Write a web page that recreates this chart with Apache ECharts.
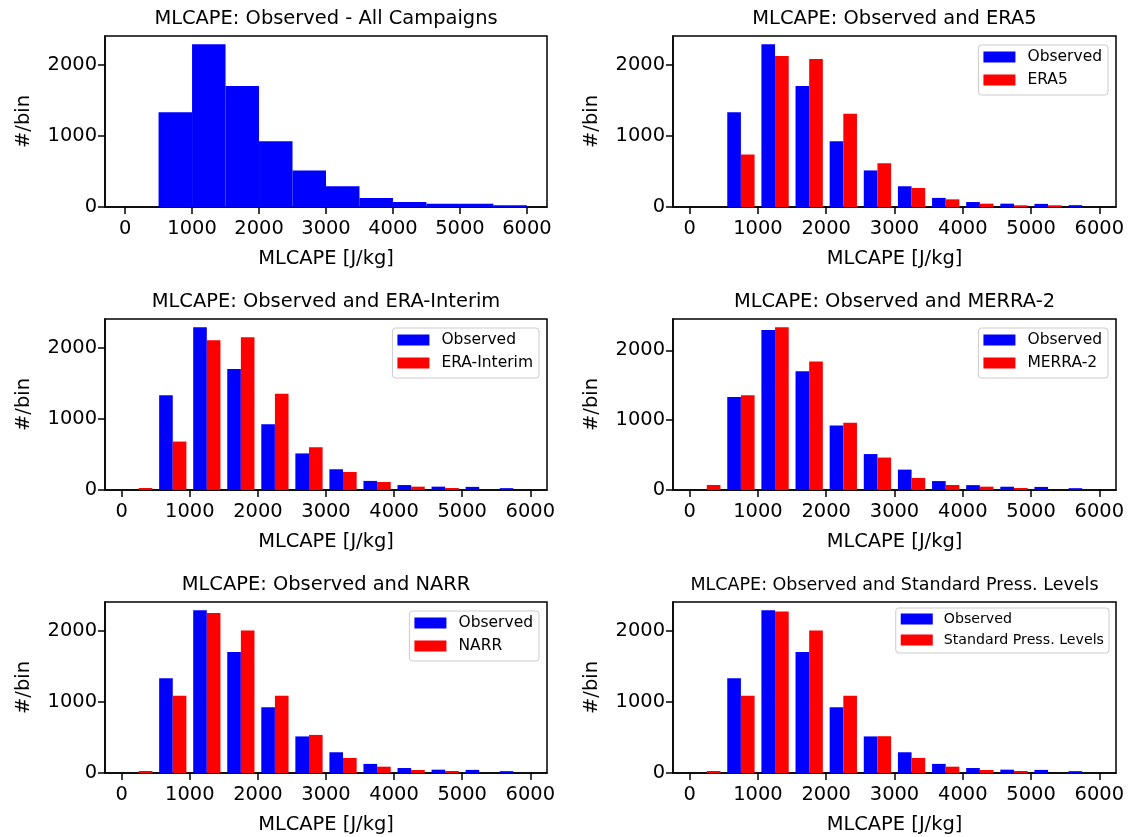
<!DOCTYPE html>
<html>
<head>
<meta charset="utf-8">
<script src="https://cdn.jsdelivr.net/npm/echarts@6/dist/echarts.min.js"></script>
<style>
  html, body { margin: 0; padding: 0; background: #fff; }
  #area { width: 1130px; height: 837px; }
</style>
</head>
<body>
<div id="area"></div>
<script>
// histogram bins (left edges), 500 J/kg wide
const binStart = [0, 500, 1000, 1500, 2000, 2500, 3000, 3500, 4000, 4500, 5000, 5500];
const binWidth = 500;

// counts per bin
const observed   = [0, 1333, 2293, 1702, 925, 515, 292, 128, 70, 47, 44, 26];
const era5       = [0, 739, 2127, 2085, 1313, 616, 268, 108, 47, 24, 24, 0];
const eraInterim = [28, 682, 2108, 2151, 1355, 602, 254, 113, 47, 28, 0, 0];
const merra2     = [72, 1357, 2334, 1842, 964, 465, 173, 72, 48, 29, 0, 0];
const narr       = [28, 1087, 2254, 2005, 1087, 536, 212, 89, 42, 28, 0, 0];
const stdPress   = [28, 1087, 2273, 2005, 1087, 518, 212, 89, 42, 28, 0, 0];

const titles = [
  'MLCAPE: Observed - All Campaigns',
  'MLCAPE: Observed and ERA5',
  'MLCAPE: Observed and ERA-Interim',
  'MLCAPE: Observed and MERRA-2',
  'MLCAPE: Observed and NARR',
  'MLCAPE: Observed and Standard Press. Levels'
];
const modelNames = [null, 'ERA5', 'ERA-Interim', 'MERRA-2', 'NARR', 'Standard Press. Levels'];
const modelValues = [null, era5, eraInterim, merra2, narr, stdPress];

const xTicks = [0, 1000, 2000, 3000, 4000, 5000, 6000];
const yTicks = [0, 1000, 2000];
const xName = 'MLCAPE [J/kg]';
const yName = '#/bin';

const FONT = 'DejaVu Sans';
const W = 1130;
const colLeft = [105, 673];
const colWidth = [442, 443];
const rowTop = [36, 319, 602];
const rowHeight = 171;

function renderBar(params, api) {
  const p0 = api.coord([api.value(0), api.value(2)]);
  const p1 = api.coord([api.value(1), 0]);
  return {
    type: 'rect',
    shape: { x: p0[0], y: p0[1], width: p1[0] - p0[0], height: p1[1] - p0[1] },
    style: api.style()
  };
}

const grid = [], xAxis = [], yAxis = [], series = [], title = [], legend = [];
const lineStyle = { color: '#000', width: 1.5 };

titles.forEach(function (t, i) {
  const col = i % 2, row = Math.floor(i / 2);
  const left = colLeft[col], width = colWidth[col], top = rowTop[row];
  const small = i === 5;
  grid.push({ left: left, top: top, width: width, height: rowHeight, show: true,
    borderColor: '#000', borderWidth: 1.5, backgroundColor: 'transparent' });

  const model = modelValues[i];
  let lo, hi, ymax;
  if (!model) {
    lo = binStart[0]; hi = binStart[binStart.length - 1] + binWidth;
    ymax = Math.max.apply(null, observed) * 1.05;
    series.push({
      type: 'custom', name: 'Observed', xAxisIndex: i, yAxisIndex: i,
      renderItem: renderBar, itemStyle: { color: '#0000ff' },
      encode: { x: [0, 1], y: 2 },
      data: binStart.map(function (b, k) { return [b, b + binWidth, observed[k]]; })
    });
  } else {
    const bw = binWidth * 0.8 / 2, off = binWidth * 0.1;
    lo = binStart[0] + off; hi = binStart[binStart.length - 1] + off + 2 * bw;
    ymax = Math.max(Math.max.apply(null, observed), Math.max.apply(null, model)) * 1.05;
    series.push({
      type: 'custom', name: 'Observed', xAxisIndex: i, yAxisIndex: i,
      renderItem: renderBar, itemStyle: { color: '#0000ff' },
      encode: { x: [0, 1], y: 2 },
      data: binStart.map(function (b, k) { return [b + off, b + off + bw, observed[k]]; })
    });
    series.push({
      type: 'custom', name: modelNames[i], xAxisIndex: i, yAxisIndex: i,
      renderItem: renderBar, itemStyle: { color: '#ff0000' },
      encode: { x: [0, 1], y: 2 },
      data: binStart.map(function (b, k) { return [b + off + bw, b + off + 2 * bw, model[k]]; })
    });
    const lf = small ? 14.2 : 15.5;
    legend.push({
      data: ['Observed', modelNames[i]],
      orient: 'vertical',
      right: W - (left + width) + (small ? 7 : 8),
      top: top + (small ? 6 : 9),
      backgroundColor: 'rgba(255,255,255,0.8)',
      borderColor: '#cccccc', borderWidth: 1, borderRadius: 3,
      padding: small ? [4, 5, 6, 5] : [4, 6, 7, 5],
      itemWidth: 32, itemHeight: 11,
      itemGap: 7,
      icon: 'rect',
      selectedMode: false,
      textStyle: { fontFamily: FONT, fontSize: lf, color: '#000', padding: [0, 0, 0, small ? 6 : 7] }
    });
  }
  const pad = (hi - lo) * 0.05;

  title.push({
    text: t, left: left + width / 2, top: top - (small ? 16.5 : 17.3),
    textAlign: 'center', textVerticalAlign: 'middle', padding: 0,
    textStyle: { fontFamily: FONT, fontSize: small ? 17.5 : 19.44, fontWeight: 'normal', color: '#000' }
  });

  xAxis.push({
    gridIndex: i, type: 'value', min: lo - pad, max: hi + pad,
    splitLine: { show: false },
    axisLine: { show: true, onZero: false, lineStyle: lineStyle },
    axisTick: { show: true, customValues: xTicks, length: 7, lineStyle: lineStyle },
    axisLabel: { customValues: xTicks, margin: 12, fontFamily: FONT, fontSize: 19.44, color: '#000',
      formatter: function (v) { return String(v); } },
    name: xName, nameLocation: 'middle', nameGap: 42,
    nameTextStyle: { fontFamily: FONT, fontSize: 19.44, color: '#000' }
  });
  yAxis.push({
    gridIndex: i, type: 'value', min: 0, max: ymax,
    splitLine: { show: false },
    axisLine: { show: true, onZero: false, lineStyle: lineStyle },
    axisTick: { show: true, customValues: yTicks, length: 7, lineStyle: lineStyle },
    axisLabel: { customValues: yTicks, margin: 8, fontFamily: FONT, fontSize: 19.44, color: '#000',
      formatter: function (v) { return String(v); } },
    name: yName, nameLocation: 'middle', nameRotate: 90, nameGap: 72,
    nameTextStyle: { fontFamily: FONT, fontSize: 19.44, color: '#000' }
  });
});

const option = {
  animation: false,
  backgroundColor: '#fff',
  title: title,
  legend: legend,
  grid: grid,
  xAxis: xAxis,
  yAxis: yAxis,
  series: series
};

const myChart = echarts.init(document.getElementById('area'));
myChart.setOption(option);
window.addEventListener('resize', function () {
  myChart.resize();
}, false);
</script>
</body>
</html>
